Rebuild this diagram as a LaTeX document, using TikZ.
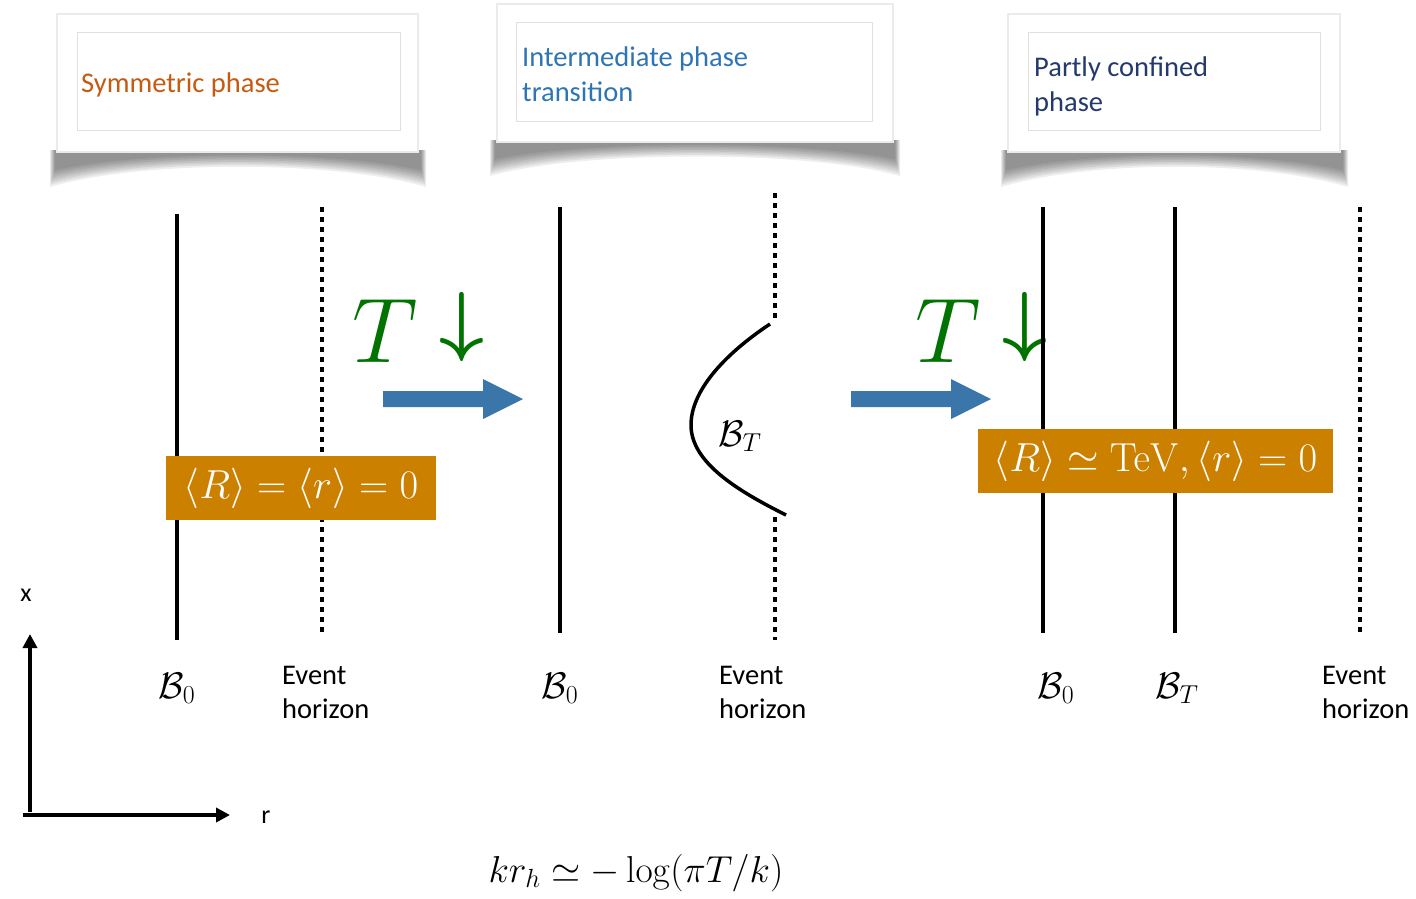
\RequirePackage{fix-cm}
\documentclass[tikz,border=0pt]{standalone}
\usepackage[no-math]{fontspec}
\setmainfont{Carlito}
\usetikzlibrary{arrows.meta}
\definecolor{symorange}{RGB}{197,90,17}
\definecolor{midblue}{RGB}{46,117,182}
\definecolor{darkblue}{RGB}{36,58,108}
\definecolor{boxorange}{RGB}{204,128,0}
\definecolor{tgreen}{RGB}{0,115,0}
\definecolor{arrowblue}{RGB}{58,118,170}
\newcommand\fsz[2]{\fontsize{#1}{#2}\selectfont}
\newcommand\cardshadow[5]{% x1 x2 ytop ymid yedge
  \foreach \k in {0,...,7}{
    \fill[black,opacity=0.065] (#1+\k*0.7-2,#3) -- (#2-\k*0.7+2,#3) -- (#2-\k*0.7+2,#5+4-\k*2.4) .. controls (#2-90,#4+2-\k*1.4) and (#1+90,#4+2-\k*1.4) .. (#1+\k*0.7-2,#5+4-\k*2.4) -- cycle;
  }
}
\tikzset{
  card/.style={fill=white,draw=black!8,line width=2pt},
  innercard/.style={draw=black!12,line width=0.8pt,fill=white},
  solidline/.style={line width=3.5pt,black},
  dotline/.style={line width=3.5pt,black,dash pattern=on 5pt off 5pt},
  lab/.style={inner sep=0pt,font=\fsz{28.5}{34}},
  mlab/.style={inner sep=0pt,font=\fsz{37}{42}},
  valbox/.style={fill=boxorange,text=white,inner sep=0pt,font=\fsz{40.5}{46}},
  tlab/.style={inner sep=0pt,text=tgreen,font=\fsz{92}{100}},
  darr/.style={inner sep=0pt,text=tgreen,font=\fsz{78}{84}\boldmath},
  blarrow/.style={fill=arrowblue},
  axis/.style={line width=3.5pt,-{Triangle[length=14pt,width=14pt]}},
}
\begin{document}
\begin{tikzpicture}[x=1pt,y=-1pt]
\useasboundingbox (0,0) rectangle (1416,898);
% ---------- cards ----------
\cardshadow{52}{424}{150}{158}{183}
\cardshadow{492}{898}{140}{148}{172}
\cardshadow{1003}{1346}{150}{158}{183}
\filldraw[card] (57,14) rectangle (418,152);
\filldraw[card] (497,4) rectangle (893,142);
\filldraw[card] (1008,14) rectangle (1340,152);
\filldraw[innercard] (77,32) rectangle (400,130);
\filldraw[innercard] (516,22) rectangle (872,121);
\filldraw[innercard] (1028,32) rectangle (1320,130);
\node[lab,text=symorange,anchor=base west] (c1) at (81,92) {Symmetric phase};
\node[lab,text=midblue,anchor=base west] (c2a) at (522,66) {Intermediate phase};
\node[lab,text=midblue,anchor=base west] (c2b) at (522,101) {transition};
\node[lab,text=darkblue,anchor=base west] (c3a) at (1034,76) {Partly confined};
\node[lab,text=darkblue,anchor=base west] (c3b) at (1034,111) {phase};
% ---------- panel 1 ----------
\coordinate (p1a) at (177,214); \coordinate (p1b) at (177,640);
\coordinate (h1a) at (322,207); \coordinate (h1b) at (322,632);
\draw[solidline] (p1a) -- (p1b);
\draw[dotline] (h1a) -- (h1b);
\node[valbox,minimum width=270pt,minimum height=64pt] (v1) at (301,488) {$\langle R\rangle = \langle r\rangle = 0$};
\node[mlab,anchor=base] (b01) at (177,698) {$\mathcal{B}_0$};
\node[lab,anchor=base west] (e1a) at (282,684) {Event};
\node[lab,anchor=base west] (e1b) at (282,718) {horizon};
% ---------- transition arrow 1 ----------
\node[tlab,anchor=base west] (t1) at (352,362) {$T$};
\node[darr,anchor=base] (d1) at (462,346) {$\downarrow$};
\fill[blarrow] (383,391) -- (483,391) -- (483,379) -- (523,399) -- (483,419) -- (483,407) -- (383,407) -- cycle;
% ---------- panel 2 ----------
\coordinate (p2a) at (560,207); \coordinate (p2b) at (560,633);
\draw[solidline] (p2a) -- (p2b);
\coordinate (h2a) at (775,193); \coordinate (h2b) at (775,320);
\coordinate (h2c) at (775,517); \coordinate (h2d) at (775,640);
\draw[dotline] (h2a) -- (h2b);
\draw[dotline] (h2c) -- (h2d);
\coordinate (bt1) at (770,324); \coordinate (bt2) at (691,425); \coordinate (bt3) at (786,515);
\draw[solidline] (bt1) .. controls (722,356) and (691,392) .. (bt2) .. controls (691,462) and (736,490) .. (bt3);
\node[mlab,anchor=base] (bT2) at (740,446) {$\mathcal{B}_T$};
\node[mlab,anchor=base] (b02) at (560,698) {$\mathcal{B}_0$};
\node[lab,anchor=base west] (e2a) at (719,684) {Event};
\node[lab,anchor=base west] (e2b) at (719,718) {horizon};
% ---------- transition arrow 2 ----------
\node[tlab,anchor=base west] (t2) at (915,362) {$T$};
\node[darr,anchor=base] (d2) at (1025,346) {$\downarrow$};
\fill[blarrow] (851,391) -- (951,391) -- (951,379) -- (991,399) -- (951,419) -- (951,407) -- (851,407) -- cycle;
% ---------- panel 3 ----------
\coordinate (p3a) at (1043,207); \coordinate (p3b) at (1043,633);
\coordinate (q3a) at (1175,207); \coordinate (q3b) at (1175,633);
\coordinate (h3a) at (1360,207); \coordinate (h3b) at (1360,633);
\draw[solidline] (p3a) -- (p3b);
\draw[solidline] (q3a) -- (q3b);
\draw[dotline] (h3a) -- (h3b);
\node[valbox,minimum width=355pt,minimum height=64pt] (v2) at (1155.5,461) {$\langle R\rangle \simeq \mathrm{TeV}, \langle r\rangle = 0$};
\node[mlab,anchor=base] (b03) at (1056,698) {$\mathcal{B}_0$};
\node[mlab,anchor=base] (bT3) at (1177,698) {$\mathcal{B}_T$};
\node[lab,anchor=base west] (e3a) at (1322,684) {Event};
\node[lab,anchor=base west] (e3b) at (1322,718) {horizon};
% ---------- axes ----------
\coordinate (o1) at (30,812); \coordinate (ox) at (30,634);
\coordinate (o2) at (23,815); \coordinate (or) at (230,815);
\draw[axis] (o1) -- (ox);
\draw[axis] (o2) -- (or);
\node[lab,font=\fsz{26}{30}] (xl) at (26,595) {x};
\node[lab,font=\fsz{26}{30}] (rl) at (266,817) {r};
% ---------- formula ----------
\node[inner sep=0pt,anchor=base,font=\fsz{37.5}{42}] (f) at (636,882) {$kr_h \simeq -\log(\pi T/k)$};
\end{tikzpicture}
\end{document}
